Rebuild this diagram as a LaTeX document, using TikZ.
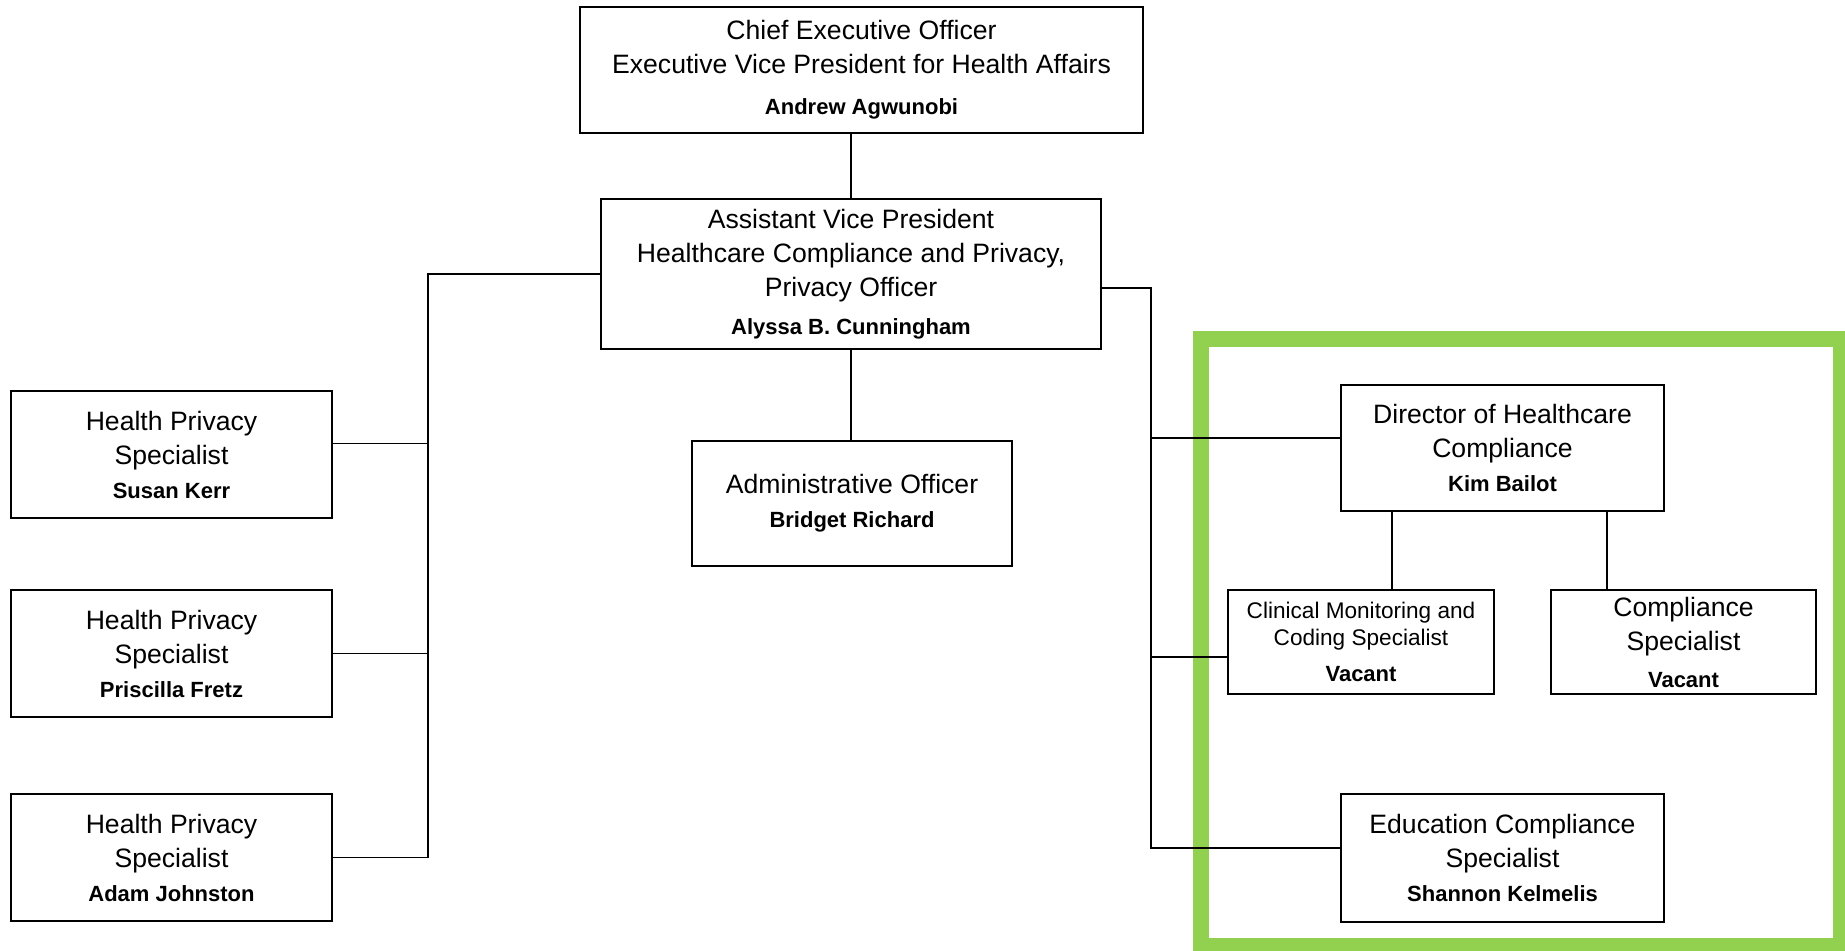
\documentclass[tikz,border=0pt]{standalone}
\usepackage{fontspec}
\setmainfont{Liberation Sans}
\definecolor{framegreen}{RGB}{146,208,80}
\newcommand{\who}[1]{{\fontsize{11}{17}\selectfont\bfseries #1}}
\tikzset{
    unit/.style={draw, line width=1pt, align=center, inner sep=0pt,
        font=\fontsize{13.3}{17}\selectfont},
    smallunit/.style={unit, font=\fontsize{11.3}{13.5}\selectfont},
    link/.style={-, line width=0.75pt}
}
\begin{document}
\begin{tikzpicture}[x=0.5pt, y=-0.5pt]
    \useasboundingbox (0,0) rectangle (1845,951);
    \draw[line width=8pt, framegreen] (1201,339) rectangle (1841,946);

    \node[unit, minimum width=281.5pt, minimum height=63pt] (ceo) at (861.5,70) {
        Chief Executive Officer\\Executive Vice President for Health Affairs\\[3.5pt]\who{Andrew Agwunobi}
    };
    \node[unit, minimum width=250pt, minimum height=75pt] (avp) at (851,274) {
        Assistant Vice President\\Healthcare Compliance and Privacy,\\Privacy Officer\\[2pt]\who{Alyssa B. Cunningham}
    };
    \node[unit, minimum width=160pt, minimum height=62.5pt] (admin) at (852,503.5) {
        Administrative Officer\\\who{Bridget Richard}
    };
    \node[unit, minimum width=160.5pt, minimum height=63.5pt] (hps1) at (171.5,454.5) {
        Health Privacy\\Specialist\\\who{Susan Kerr}
    };
    \node[unit, minimum width=160.5pt, minimum height=63.5pt] (hps2) at (171.5,653.5) {
        Health Privacy\\Specialist\\\who{Priscilla Fretz}
    };
    \node[unit, minimum width=160.5pt, minimum height=63.5pt] (hps3) at (171.5,857.5) {
        Health Privacy\\Specialist\\\who{Adam Johnston}
    };
    \node[unit, minimum width=161.5pt, minimum height=63pt] (dir) at (1502.5,448) {
        Director of Healthcare\\Compliance\\\who{Kim Bailot}
    };
    \node[smallunit, minimum width=133pt, minimum height=52pt] (clin) at (1361,642) {
        Clinical Monitoring and\\Coding Specialist\\[4.5pt]\who{Vacant}
    };
    \node[unit, minimum width=132.5pt, minimum height=52pt] (comp) at (1683.5,642) {
        Compliance\\Specialist\\[1.5pt]\who{Vacant}
    };
    \node[unit, minimum width=161.5pt, minimum height=64pt] (edu) at (1502.5,858) {
        Education Compliance\\Specialist\\\who{Shannon Kelmelis}
    };

    \coordinate (lbus) at (428,274);
    \coordinate (rbus) at (1151,288);
    \coordinate (legA) at (1392,511);
    \coordinate (legB) at (1607,511);
    \coordinate (hps1in) at ([yshift=5.5pt]hps1.east);
    \coordinate (avpout) at ([yshift=-7pt]avp.east);
    \coordinate (dirin) at ([yshift=5pt]dir.west);
    \coordinate (clinin) at ([yshift=-7.5pt]clin.west);
    \coordinate (eduin) at ([yshift=5pt]edu.west);

    \draw[link] (avp.north) -- (avp.north |- ceo.south);
    \draw[link] (avp.south) -- (avp.south |- admin.north);
    \draw[link] (avp.west) -- (lbus) -- (lbus |- hps3.east) -- (hps3.east);
    \draw[link] (lbus |- hps1in) -- (hps1in);
    \draw[link] (lbus |- hps2.east) -- (hps2.east);
    \draw[link] (avpout) -- (rbus) -- (rbus |- eduin) -- (eduin);
    \draw[link] (rbus |- dirin) -- (dirin);
    \draw[link] (rbus |- clinin) -- (clinin);
    \draw[link] (legA) -- (legA |- clin.north);
    \draw[link] (legB) -- (legB |- comp.north);
\end{tikzpicture}
\end{document}
